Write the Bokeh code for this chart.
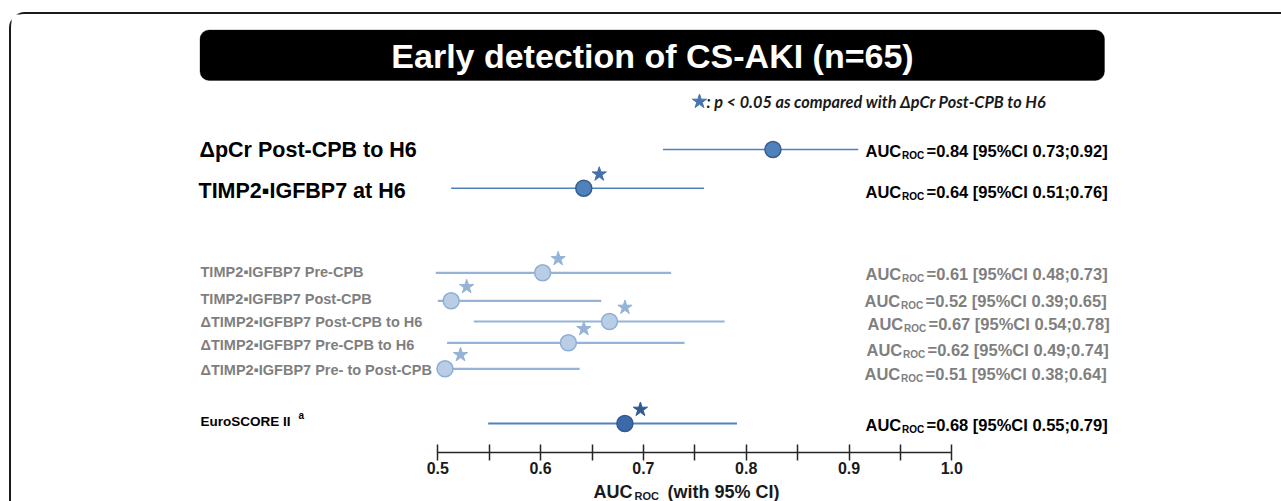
from bokeh.plotting import figure
from bokeh.layouts import column
from bokeh.models import Range1d, LinearAxis, FixedTicker, BoxAnnotation, ColumnDataSource
from bokeh.core.properties import value
from bokeh.embed import file_html
from bokeh.resources import INLINE

# ---------------- data ----------------
markers = ["\u0394pCr Post-CPB to H6", "TIMP2\u25aaIGFBP7 at H6",
           "TIMP2\u25aaIGFBP7 Pre-CPB", "TIMP2\u25aaIGFBP7 Post-CPB",
           "\u0394TIMP2\u25aaIGFBP7 Post-CPB to H6", "\u0394TIMP2\u25aaIGFBP7 Pre-CPB to H6",
           "\u0394TIMP2\u25aaIGFBP7 Pre- to Post-CPB", "EuroSCORE II"]
auc_point = [0.826, 0.642, 0.602, 0.513, 0.667, 0.627, 0.507, 0.682]
auc_low = [0.719, 0.513, 0.498, 0.500, 0.535, 0.509, 0.507, 0.549]
auc_high = [0.909, 0.759, 0.727, 0.659, 0.779, 0.740, 0.638, 0.791]
auc_text = ["0.84", "0.64", "0.61", "0.52", "0.67", "0.62", "0.51", "0.68"]
ci_low_text = ["0.73", "0.51", "0.48", "0.39", "0.54", "0.49", "0.38", "0.55"]
ci_high_text = ["0.92", "0.76", "0.73", "0.65", "0.78", "0.74", "0.64", "0.79"]
significant = [False, True, True, True, True, True, True, True]
group = ["main", "main", "other", "other", "other", "other", "other", "euro"]
tick_values = [0.5, 0.6, 0.7, 0.8, 0.9, 1.0]
tick_labels = ["0.5", "0.6", "0.7", "0.8", "0.9", "1.0"]
minor_tick_values = [0.55, 0.65, 0.75, 0.85, 0.95]
title_text = "Early detection of CS-AKI (n=65)"
note_text = ": p < 0.05 as compared with \u0394pCr Post-CPB to H6"
axis_title = ["AUC", "ROC", "(with 95% CI)"]

# ---------------- layout (page pixels) ----------------
ML, MT, BW = 9, 12, 2      # outer frame margins / border width
CX, CY = ML + BW, MT + BW  # canvas origin on the page
W = 1281 - CX
AXIS_Y = 452               # page y of the axis line (frame bottom)
AX_H = 28                  # room for ticks + tick labels
H1 = AXIS_Y - CY + AX_H
H2 = 501 - CY - H1
X05, PX_PER_UNIT = 437.3, 1028.0


def v(px):
    return 0.5 + (px - X05) / PX_PER_UNIT


row_y = [149, 187.7, 272.3, 300.3, 321, 342.3, 368.3, 423]
label_y = [149, 190, 271, 298, 321, 344, 369, 421]
label_x = [199, 198, 200, 200, 200, 200, 200, 200]
right_y = [150, 191, 273, 300, 323, 349, 373, 424]
right_x = [865, 865, 865, 864, 867, 866, 864, 865]
STAR_DX, STAR_DY = 15.5 / PX_PER_UNIT, -14

style = {
    "main": dict(line="#4f81bd", fill="#4f81bd", edge="#385d8a", star="#4470ae",
                 text="#000000", size="21.5px", lw=1.6),
    "other": dict(line="#95b3d7", fill="#b9cde5", edge="#8eaed6", star="#95b3d7",
                  text="#7f7f7f", size="14.5px", lw=2.2),
    "euro": dict(line="#4f81bd", fill="#3c6aa8", edge="#2f5a93", star="#2f5a93",
                 text="#000000", size="13.5px", lw=2.2),
}
FONT = "Liberation Sans"

xr = Range1d(v(CX), v(CX + W))
p = figure(width=W, height=H1, output_backend="svg", toolbar_location=None,
           x_range=xr, y_range=Range1d(AXIS_Y, CY),
           x_axis_location=None, y_axis_location=None,
           min_border_left=0, min_border_right=0, min_border_top=0,
           min_border_bottom=AX_H,
           outline_line_color=None, background_fill_color="white",
           border_fill_color="white")
p.grid.grid_line_color = None

# title banner
p.add_layout(BoxAnnotation(left=v(199.5), right=v(1104), top=29.5, bottom=80,
                           fill_color="black", fill_alpha=1, line_color="black",
                           border_radius=9, level="underlay"))
p.text(x=[v(652)], y=[55.5], text=[title_text], text_align="center", text_baseline="middle",
       text_font=value(FONT), text_font_style="bold", text_font_size="34px", text_color="white")

# significance note
p.scatter(x=[v(699)], y=[101], marker="star", size=15, color="#4a74ab")
p.text(x=[v(706)], y=[101], text=[note_text], text_baseline="middle",
       text_font=value("Lato"), text_font_style="bold italic", text_font_size="16.3px",
       text_color="#1a1a1a")

for g in ["main", "other", "euro"]:
    st = style[g]
    idx = [i for i, gg in enumerate(group) if gg == g]
    src = ColumnDataSource(dict(
        y=[row_y[i] for i in idx], pt=[auc_point[i] for i in idx],
        lo=[auc_low[i] for i in idx], hi=[auc_high[i] for i in idx]))
    p.segment(x0="lo", x1="hi", y0="y", y1="y", source=src, line_color=st["line"],
              line_width=st["lw"])
    p.scatter(x="pt", y="y", source=src, size=16, fill_color=st["fill"],
              line_color=st["edge"], line_width=1.5)
    sidx = [i for i in idx if significant[i]]
    if sidx:
        p.scatter(x=[auc_point[i] + STAR_DX for i in sidx],
                  y=[row_y[i] + STAR_DY for i in sidx],
                  marker="star", size=15, color=st["star"])
    # left labels
    p.text(x=[v(label_x[i]) for i in idx], y=[label_y[i] for i in idx],
           text=[markers[i] for i in idx], text_baseline="middle", text_font=value(FONT),
           text_font_style="bold", text_font_size=st["size"], text_color=st["text"])
    # right labels: AUC_ROC =x [95%CI a;b]
    tcol = "#000000" if g != "other" else "#7f7f7f"
    p.text(x=[v(right_x[i]) for i in idx], y=[right_y[i] for i in idx],
           text=["AUC"] * len(idx), text_baseline="middle", text_font=value(FONT),
           text_font_style="bold", text_font_size="16.5px", text_color=tcol)
    p.text(x=[v(right_x[i] + 36.5) for i in idx], y=[right_y[i] + 5 for i in idx],
           text=["ROC"] * len(idx), text_baseline="middle", text_font=value(FONT),
           text_font_style="bold", text_font_size="10px", text_color=tcol)
    p.text(x=[v(right_x[i] + 61) for i in idx], y=[right_y[i] for i in idx],
           text=["=%s [95%%CI %s;%s]" % (auc_text[i], ci_low_text[i], ci_high_text[i])
                 for i in idx],
           text_baseline="middle", text_font=value(FONT),
           text_font_style="bold", text_font_size="16.5px", text_color=tcol)

# superscript on EuroSCORE II
p.text(x=[v(298)], y=[415], text=["a"], text_baseline="middle", text_font=value(FONT),
       text_font_style="bold", text_font_size="10px", text_color="#000000")

# x axis
ax = LinearAxis(ticker=FixedTicker(ticks=tick_values, minor_ticks=minor_tick_values),
                bounds=(0.5, 1.0),
                major_label_overrides={t: l for t, l in zip(tick_values, tick_labels)},
                major_tick_in=8, major_tick_out=8, minor_tick_in=8, minor_tick_out=8,
                axis_line_color="#262626", axis_line_width=1.5,
                major_tick_line_color="#262626", major_tick_line_width=1.5,
                minor_tick_line_color="#262626", minor_tick_line_width=1.5,
                major_label_standoff=1, major_label_text_font=FONT,
                major_label_text_font_style="bold", major_label_text_font_size="16px",
                major_label_text_color="#1a1a1a")
p.add_layout(ax, "below")

# strip below for the axis title (AUC_ROC (with 95% CI))
p2 = figure(width=W, height=H2, output_backend="svg", toolbar_location=None,
            x_range=xr, y_range=Range1d(CY + H1 + H2, CY + H1),
            x_axis_location=None, y_axis_location=None, min_border=0,
            outline_line_color=None, background_fill_color="white",
            border_fill_color="white")
p2.grid.grid_line_color = None
for txt, px, py, fs in [(axis_title[0], 593, 491, "18px"), (axis_title[1], 634, 495.5, "11px"),
                        (axis_title[2], 667, 491, "18px")]:
    p2.text(x=[v(px)], y=[py], text=[txt], text_baseline="middle", text_font=value(FONT),
            text_font_style="bold", text_font_size=fs, text_color="#1a1a1a")

layout = column(p, p2, spacing=0,
                styles={"border-top": "%dpx solid #1a1a1a" % BW,
                        "border-left": "%dpx solid #1a1a1a" % BW,
                        "border-top-left-radius": "16px",
                        "margin-left": "%dpx" % ML, "margin-top": "%dpx" % MT})

open("out.html", "w").write(file_html(layout, INLINE))
